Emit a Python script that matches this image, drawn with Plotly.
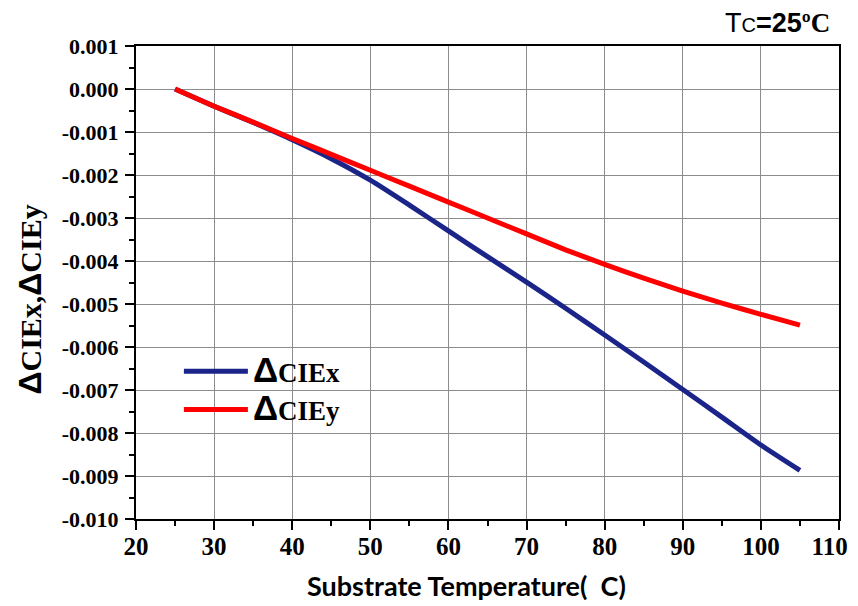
import plotly.graph_objects as go

temperature = [25, 30, 35, 40, 45, 50, 55, 60, 65, 70, 75, 80, 85, 90, 95, 100, 105]
delta_cie_x = [0.0, -0.0004, -0.00078, -0.00118, -0.00162, -0.00212, -0.0027, -0.0033,
               -0.0039, -0.00449, -0.0051, -0.00572, -0.00635, -0.00699, -0.00763, -0.00828, -0.00887]
delta_cie_y = [0.0, -0.0004, -0.00077, -0.00115, -0.00152, -0.00189, -0.00226, -0.00263,
               -0.003, -0.00337, -0.00374, -0.00408, -0.0044, -0.0047, -0.00498, -0.00524, -0.00549]

x_tick_vals = [20, 30, 40, 50, 60, 70, 80, 90, 100, 110]
x_tick_text = ["20", "30", "40", "50", "60", "70", "80", "90", "100", "110\u00a0\u00a0\u00a0"]
y_tick_vals = [0.001, 0.0, -0.001, -0.002, -0.003, -0.004, -0.005, -0.006, -0.007, -0.008, -0.009, -0.010]
y_tick_text = ["0.001", "0.000", "-0.001", "-0.002", "-0.003", "-0.004", "-0.005",
               "-0.006", "-0.007", "-0.008", "-0.009", "-0.010"]

serif = "Liberation Serif"
big_delta = "<span style='font-family:Liberation Sans;font-size:{}px'>Δ</span>"

fig = go.Figure()
fig.add_trace(go.Scatter(x=temperature, y=delta_cie_x, mode="lines",
                         name="<b>" + big_delta.format(35) + "CIEx</b>",
                         line=dict(color="#1B2488", width=5, shape="spline", smoothing=0.6)))
fig.add_trace(go.Scatter(x=temperature, y=delta_cie_y, mode="lines",
                         name="<b>" + big_delta.format(35) + "CIEy</b>",
                         line=dict(color="#FF0000", width=5, shape="spline", smoothing=0.6)))

fig.update_layout(
    width=858, height=606,
    margin=dict(l=128, r=27, t=38, b=95),
    paper_bgcolor="white", plot_bgcolor="white",
    font=dict(family=serif, color="black"),
    showlegend=True,
    legend=dict(x=0.061, y=0.363, xanchor="left", yanchor="top",
                bgcolor="rgba(0,0,0,0)", itemwidth=64, tracegroupgap=0,
                font=dict(family=serif, size=27, color="black")),
    annotations=[
        dict(xref="paper", yref="paper", x=1.0, y=1.0, xanchor="right", yanchor="middle",
             xshift=-7, yshift=23, height=22, showarrow=False,
             text=("<span style='font-family:Liberation Sans;font-weight:normal'>T"
                   "<span style='font-size:20px'>C</span></span>"
                   "<b>=25</b><b style='font-family:Liberation Serif'>ºC</b>"),
             font=dict(family="Liberation Sans", size=27, color="black")),
        dict(xref="paper", yref="paper", x=0, y=0.5, xanchor="center", yanchor="middle",
             xshift=-107, yshift=-17, textangle=-90, showarrow=False,
             text="<b>" + big_delta.format(32) + "CIEx," + big_delta.format(32) + "CIEy</b>",
             font=dict(family=serif, size=30, color="black")),
        dict(xref="paper", yref="paper", x=0.5, y=0, xanchor="center", yanchor="middle",
             xshift=-21, yshift=-66, showarrow=False,
             text="<b>Substrate Temperature(  C)</b>",
             font=dict(family="Lato", size=27, color="black")),
    ],
)

fig.update_xaxes(
    range=[20, 110], tickvals=x_tick_vals, ticktext=x_tick_text,
    automargin=False, ticklabeloverflow="allow",
    showline=True, linecolor="black", linewidth=2, mirror=True,
    ticks="outside", ticklen=9, tickwidth=2, tickcolor="black",
    showgrid=True, gridcolor="#8c8c8c", gridwidth=1, zeroline=False,
    minor=dict(dtick=5, ticks="outside", ticklen=5, tickwidth=2, tickcolor="black", showgrid=False),
    tickfont=dict(family=serif, size=25, color="black", weight="bold"),
    ticklabelstandoff=-5,
)
fig.update_yaxes(
    range=[-0.010, 0.001], tickvals=y_tick_vals, ticktext=y_tick_text, automargin=False,
    showline=True, linecolor="black", linewidth=2, mirror=True,
    ticks="outside", ticklen=9, tickwidth=2, tickcolor="black",
    showgrid=True, gridcolor="#8c8c8c", gridwidth=1, zeroline=False,
    minor=dict(dtick=0.0005, ticks="outside", ticklen=5, tickwidth=2, tickcolor="black", showgrid=False),
    tickfont=dict(family=serif, size=22, color="black", weight="bold"),
    ticklabelstandoff=2,
)

fig.write_html("out.html")
